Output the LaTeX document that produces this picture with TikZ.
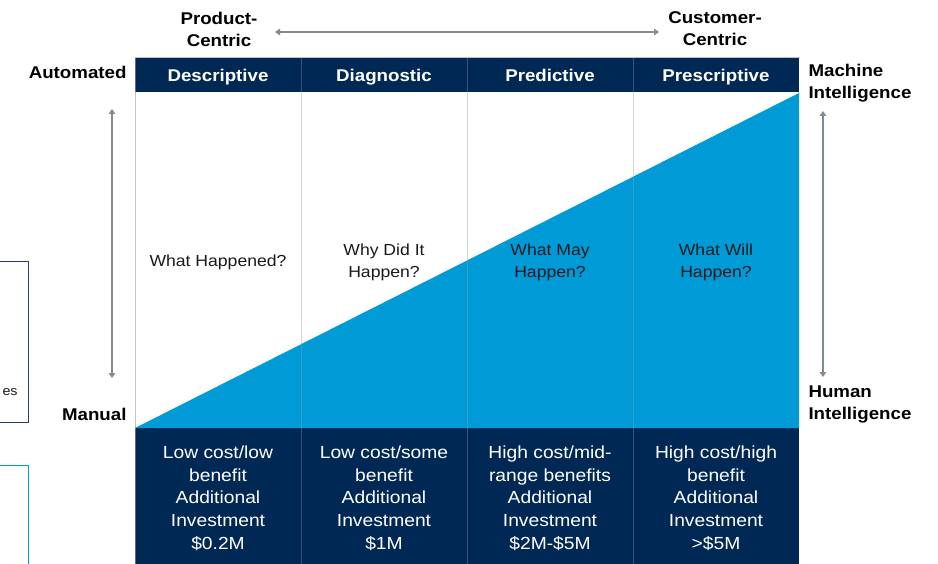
\documentclass[tikz,border=0pt]{standalone}
\usepackage{fontspec}
\setmainfont{Liberation Sans}[FakeStretch=1.1]
\usetikzlibrary{arrows.meta}
\definecolor{navy}{RGB}{0,40,85}
\definecolor{sky}{RGB}{0,155,214}
\definecolor{arrowgray}{RGB}{128,140,145}
\definecolor{gridgray}{RGB}{150,155,160}
\definecolor{navyline}{RGB}{60,80,115}
\definecolor{txt}{RGB}{25,25,30}
\definecolor{boxnavy}{RGB}{40,60,110}
\tikzset{
  hdr/.style={text=white,font=\fontsize{17}{21}\selectfont\bfseries,text height=12pt,text depth=4pt},
  lbl/.style={text=black,font=\fontsize{17}{22}\selectfont\bfseries},
  mid/.style={text=txt,font=\fontsize{16}{22}\selectfont,align=center},
  cost/.style={text=white,font=\fontsize{17.5}{22.7}\selectfont,align=center},
  garrow/.style={arrowgray,line width=1.3pt,{Triangle[length=5pt,width=6.5pt]}-{Triangle[length=5pt,width=6.5pt]}}
}
\begin{document}
\begin{tikzpicture}[x=1pt,y=-1pt]
\useasboundingbox (0,0) rectangle (938,564);
% partial boxes at left
\draw[boxnavy,line width=1pt] (-2,262) rectangle (28,422);
\draw[sky,line width=1pt] (-2,465) rectangle (28,570);
\node[text=txt,font=\fontsize{13}{16}\selectfont,anchor=west] (es) at (-1,392) {es};
% header and bottom bands
\fill[navy] (135,58) rectangle (799,92);
\fill[navy] (135,428) rectangle (799,564);
% triangle
\fill[sky] (135,428) -- (799,93) -- (799,428) -- cycle;
% grid lines
\foreach \x in {301,467,633}{
  \draw[gridgray,opacity=0.4,line width=0.8pt] (\x,92) -- (\x,428);
  \draw[navyline,line width=0.8pt] (\x,58) -- (\x,92);
  \draw[navyline,line width=0.8pt] (\x,428) -- (\x,564);
}
\draw[gridgray,opacity=0.6,line width=1pt] (135,564) -- (135,57.5) -- (799.5,57.5);
% header texts
\node[hdr] (h1) at (218,78) {Descriptive};
\node[hdr] (h2) at (384,78) {Diagnostic};
\node[hdr] (h3) at (550,78) {Predictive};
\node[hdr] (h4) at (716,78) {Prescriptive};
% middle texts
\node[mid] (m1) at (218,262) {What Happened?};
\node[mid] (m2) at (384,262) {Why Did It\\Happen?};
\node[mid] (m3) at (550,262) {What May\\Happen?};
\node[mid] (m4) at (716,262) {What Will\\Happen?};
% bottom texts
\node[cost] (c1) at (218,498) {Low cost/low\\benefit\\Additional\\Investment\\\$0.2M};
\node[cost] (c2) at (384,498) {Low cost/some\\benefit\\Additional\\Investment\\\$1M};
\node[cost] (c3) at (550,498) {High cost/mid-\\range benefits\\Additional\\Investment\\\$2M-\$5M};
\node[cost] (c4) at (716,498) {High cost/high\\benefit\\Additional\\Investment\\>\$5M};
% side labels
\node[lbl,align=center] (pc) at (219,29) {Product-\\Centric};
\node[lbl,align=center] (cc) at (715,29) {Customer-\\Centric};
\node[lbl,anchor=east] (auto) at (130,72) {Automated};
\node[lbl,anchor=east] (man) at (130,414) {Manual};
\node[lbl,anchor=west,align=left] (mi) at (805,83) {Machine\\Intelligence};
\node[lbl,anchor=west,align=left] (hi) at (805,404) {Human\\Intelligence};
% arrows
\coordinate (ha) at (275,32);
\coordinate (hb) at (659,32);
\coordinate (la) at (112,109);
\coordinate (lb) at (112,378);
\coordinate (ra) at (823,111);
\coordinate (rb) at (823,377);
\draw[garrow] (ha) -- (hb);
\draw[garrow] (la) -- (lb);
\draw[garrow] (ra) -- (rb);
\end{tikzpicture}
\end{document}
